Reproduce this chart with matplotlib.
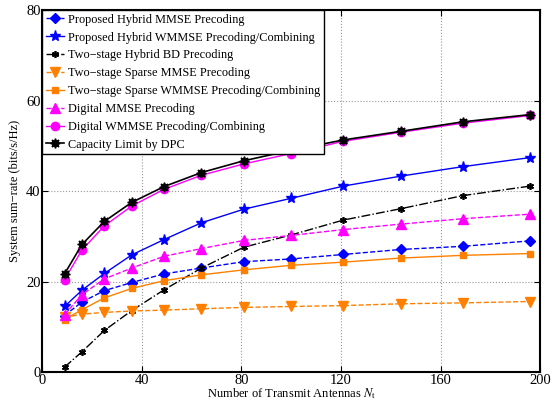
import numpy as np
import matplotlib
matplotlib.use("Agg")
import matplotlib.pyplot as plt

plt.rcParams['font.family'] = ['Liberation Serif', 'DejaVu Serif']
plt.rcParams['mathtext.fontset'] = 'stix'

# number of transmit antennas
nt = [9, 16, 25, 36, 49, 64, 81, 100, 121, 144, 169, 196]

# sum-rate values
hyb_mmse = [12.5, 15.5, 18.0, 19.8, 21.7, 23.0, 24.4, 25.0, 26.0, 27.1, 27.8, 29.0]
hyb_wmmse = [14.5, 18.1, 21.8, 25.9, 29.3, 33.0, 36.0, 38.4, 41.1, 43.3, 45.4, 47.4]
bd = [1.1, 4.5, 9.2, 13.6, 18.2, 23.0, 27.6, 30.3, 33.6, 36.1, 39.0, 41.1]
sparse_mmse = [12.1, 12.8, 13.2, 13.5, 13.7, 14.0, 14.3, 14.5, 14.7, 15.1, 15.3, 15.6]
sparse_wmmse = [11.6, 13.8, 16.4, 18.5, 20.2, 21.5, 22.6, 23.6, 24.3, 25.2, 25.8, 26.2]
dig_mmse = [12.7, 17.1, 20.6, 23.0, 25.6, 27.3, 29.1, 30.2, 31.5, 32.7, 33.9, 34.9]
dig_wmmse = [20.4, 27.0, 32.3, 36.7, 40.4, 43.5, 46.0, 48.3, 51.0, 53.0, 55.0, 56.7]
dpc = [21.7, 28.2, 33.3, 37.5, 41.0, 44.1, 46.7, 49.0, 51.3, 53.2, 55.3, 56.9]

orange = '#ff8000'

fig = plt.figure(figsize=(5.54, 4.01), dpi=100)
ax = fig.add_axes([0.076, 0.072, 0.899, 0.903])

ax.plot(nt, hyb_mmse, '--', color='blue', marker='D', ms=5, lw=1, label='Proposed Hybrid MMSE Precoding')
ax.plot(nt, hyb_wmmse, '-', color='blue', marker='*', ms=8, lw=1, label='Proposed Hybrid WMMSE Precoding/Combining')
ax.plot(nt, bd, '-.', color='black', marker=(6, 2, 0), ms=5, mew=1.2, lw=1, label='Two\u2212stage Hybrid BD Precoding')
ax.plot(nt, sparse_mmse, '--', color=orange, marker='v', ms=7, lw=1, label='Two\u2212stage Sparse MMSE Precoding')
ax.plot(nt, sparse_wmmse, '-', color=orange, marker='s', ms=5, lw=1, label='Two\u2212stage Sparse WMMSE Precoding/Combining')
ax.plot(nt, dig_mmse, '--', color='magenta', marker='^', ms=7, lw=1, label='Digital MMSE Precoding')
ax.plot(nt, dig_wmmse, '-', color='magenta', marker='o', ms=6, lw=1, label='Digital WMMSE Precoding/Combining')
ax.plot(nt, dpc, '-', color='black', marker=(8, 1, 0), ms=7, lw=1.2, label='Capacity Limit by DPC')

ax.set_xlim(0, 200)
ax.set_ylim(0, 80)
ax.set_xticks(np.arange(0, 201, 40))
ax.set_yticks(np.arange(0, 81, 20))
ax.grid(True, linestyle=':', color='#999999', lw=0.8)
ax.tick_params(direction='in', top=True, right=True, labelsize=10.5, length=4, pad=1)
for s in ax.spines.values():
    s.set_linewidth(1.5)

ax.set_xlabel('Number of Transmit Antennas $N_{\\rm t}$', fontsize=9, labelpad=0)
ax.set_ylabel('System sum\u2212rate (bits/s/Hz)', fontsize=9, labelpad=4)

leg = ax.legend(loc='upper left', fontsize=8.8, borderaxespad=0, fancybox=False,
                handlelength=1.5, handletextpad=0.3, labelspacing=0.48,
                borderpad=0.3, framealpha=1)
leg.get_frame().set_edgecolor('black')
leg.get_frame().set_linewidth(1)

fig.savefig('out.png', dpi=100)
